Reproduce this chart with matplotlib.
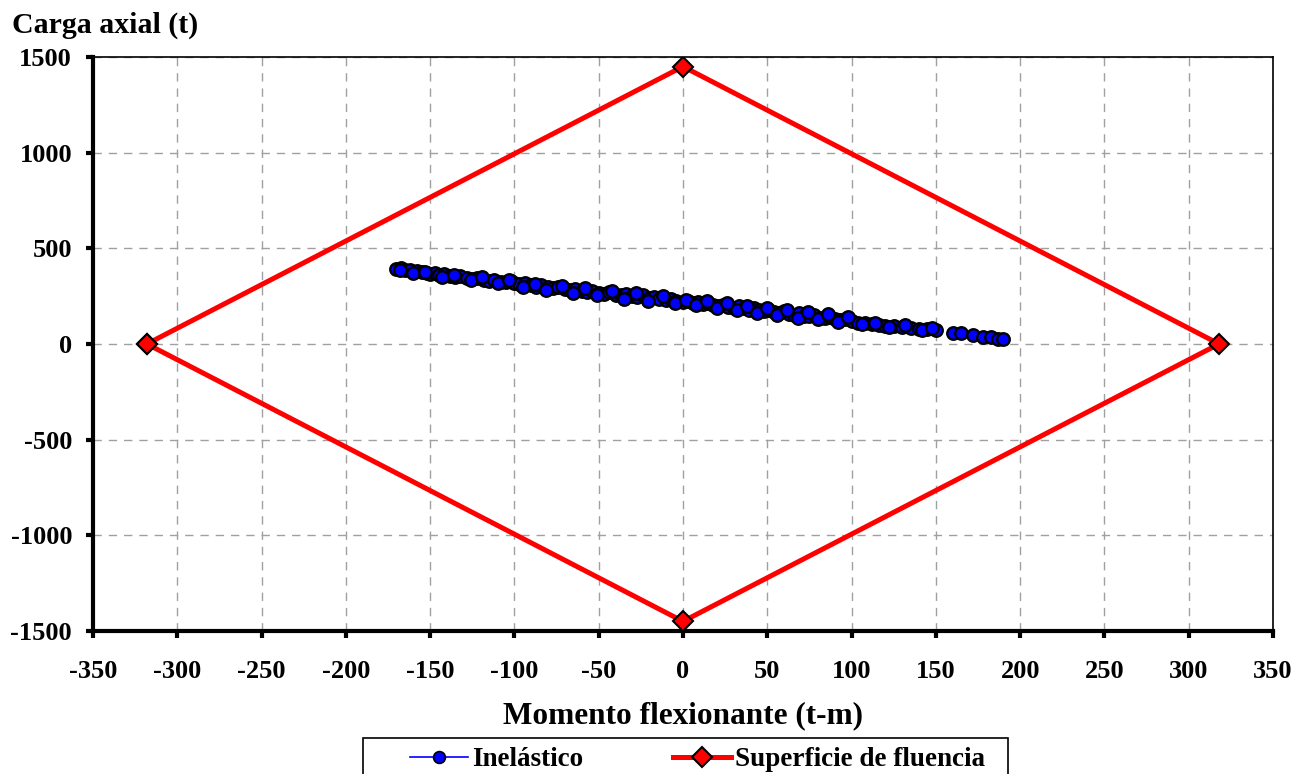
import matplotlib
matplotlib.use("Agg")
import matplotlib.pyplot as plt
from matplotlib.patches import Rectangle

plt.rcParams["font.family"] = ["Liberation Serif", "DejaVu Serif"]
plt.rcParams["font.weight"] = "bold"
plt.rcParams["axes.unicode_minus"] = False

# Superficie de fluencia (vertices of the interaction diamond)
fluencia_m = [-318, 0, 318, 0, -318]
fluencia_p = [0, 1450, 0, -1450, 0]

# Respuesta inelastica: momento (t-m) y carga axial (t)
inel_m = [
    -170, -167, -165, -162, -158, -155, -152, -150, -147, -145,
    -142, -138, -135, -132, -128, -125, -122, -118, -115, -112,
    -108, -105, -102, -100, -97, -94, -90, -87, -84, -80,
    -77, -74, -70, -67, -64, -60, -57, -54, -50, -47,
    -44, -40, -37, -34, -30, -27, -24, -20, -17, -14,
    -10, -7, -4, 0, 3, 6, 9, 12, 15, 18,
    21, 24, 27, 30, 33, 36, 39, 42, 45, 48,
    51, 54, 57, 60, 63, 66, 69, 72, 75, 78,
    81, 84, 87, 90, 93, 96, 100, 104, 108, 112,
    116, 120, 125, 130, 135, 140, 145, 150, 160, 165,
    172, 178, 183, 187, 190,
    -168, -160, -153, -143, -136, -126, -119, -110, -103, -95,
    -88, -81, -72, -65, -58, -51, -42, -35, -28, -21,
    -12, -5, 2, 8, 14, 20, 26, 32, 38, 44,
    50, 56, 62, 68, 74, 80, 86, 92, 98, 106,
    114, 122, 132, 142, 148,
]
inel_p = [
    392, 398, 388, 384, 380, 376, 372, 368, 372, 362,
    364, 356, 350, 354, 346, 340, 345, 336, 330, 334,
    326, 322, 328, 318, 312, 318, 308, 300, 306, 296,
    292, 298, 286, 282, 288, 276, 272, 278, 268, 262,
    270, 258, 254, 262, 250, 246, 254, 240, 246, 236,
    230, 236, 226, 220, 226, 214, 218, 208, 212, 204,
    198, 206, 194, 190, 198, 186, 180, 188, 176, 172,
    180, 166, 162, 170, 158, 152, 160, 148, 144, 150,
    138, 134, 142, 128, 124, 130, 118, 112, 108, 104,
    100, 96, 92, 88, 84, 80, 76, 74, 58, 56,
    46, 38, 34, 28, 26,
    384, 372, 378, 352, 362, 334, 350, 320, 336, 300,
    312, 284, 304, 268, 292, 256, 278, 236, 268, 222,
    252, 212, 232, 202, 224, 190, 212, 178, 200, 164,
    190, 150, 180, 138, 166, 128, 158, 116, 140, 102,
    112, 88, 98, 72, 86,
]

x_ticks = list(range(-350, 351, 50))
y_ticks = list(range(-1500, 1501, 500))

fig = plt.figure(figsize=(13.09, 7.74), dpi=100)
ax = fig.add_axes([0.0710, 0.1848, 0.9015, 0.7416])

ax.plot(inel_m, inel_p, color="#0000ff", lw=0, marker="o", ms=9,
        mfc="#0000ff", mec="black", mew=1.7, zorder=3)
# legend handle for the inelastic series (blue line + marker)
ax.plot([], [], color="#0000ff", lw=1.2, marker="o", ms=8.5,
        mfc="#0000ff", mec="black", mew=1.2, label="Inelástico")
ax.plot(fluencia_m, fluencia_p, color="#ff0000", lw=3.6, marker="D", ms=10,
        mfc="#ff0000", mec="black", mew=1.5, label="Superficie de fluencia", zorder=4)

ax.set_xlim(-350, 350)
ax.set_ylim(-1500, 1500)
ax.set_xticks(x_ticks)
ax.set_yticks(y_ticks)
ax.grid(True, color="#a0a0a0", ls=(0, (6, 5)), lw=1)
ax.set_axisbelow(True)

for side in ["left", "bottom"]:
    ax.spines[side].set_linewidth(3)
for side in ["top", "right"]:
    ax.spines[side].set_linewidth(1.2)
ax.tick_params(axis="both", which="major", length=5, width=3, labelsize=19)
ax.tick_params(axis="x", pad=16)
ax.tick_params(axis="y", pad=10)
ax.tick_params(top=False, right=False)
for lab in ax.get_xticklabels() + ax.get_yticklabels():
    lab.set_fontweight("bold")

ax.set_xlabel("Momento flexionante (t-m)", fontsize=22.5, fontweight="bold", labelpad=13)
fig.text(0.009, 0.958, "Carga axial (t)", fontsize=21.5, fontweight="bold", va="baseline")

# legend box (runs off the bottom edge like the original)
fig.patches.append(Rectangle((363 / 1309, -0.02), (1008 - 363) / 1309, 0.02 + (774 - 738) / 774,
                             transform=fig.transFigure, fill=False, edgecolor="black", lw=1.2))
leg = fig.legend(loc="upper left", bbox_to_anchor=(410 / 1309, 1 - 747 / 774), ncol=2,
                 frameon=False, borderaxespad=0, borderpad=0,
                 handlelength=2.15, columnspacing=3.3, handletextpad=0.15,
                 prop={"weight": "bold", "size": 19.5})

fig.savefig("out.png", dpi=100)
